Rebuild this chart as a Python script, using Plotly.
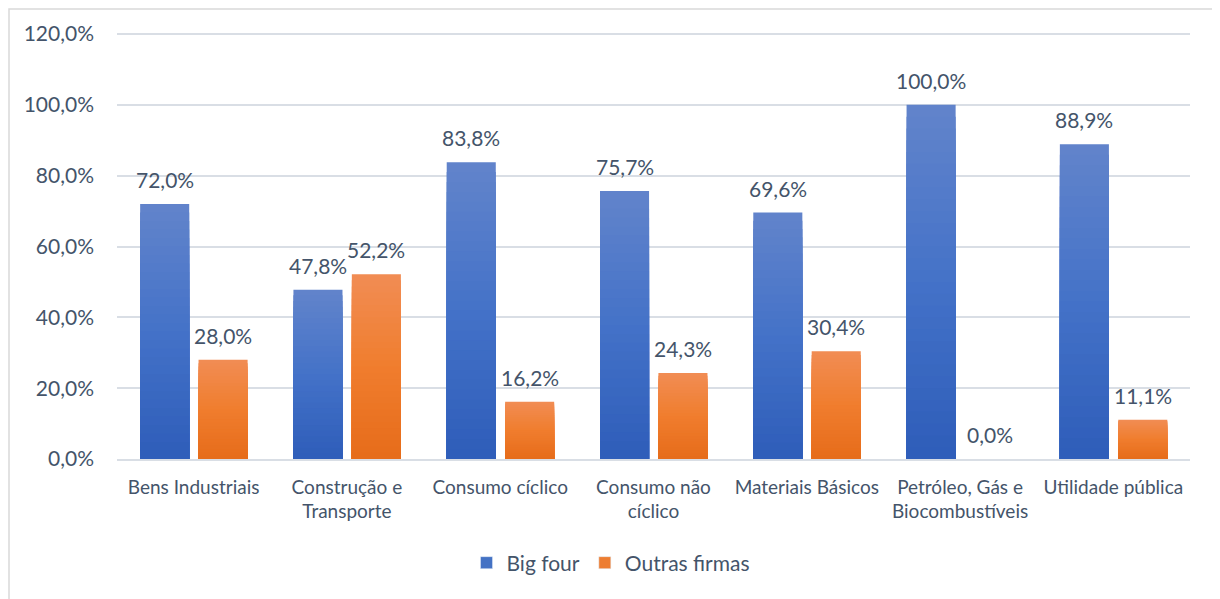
import plotly.graph_objects as go

categories = ["Bens Industriais", "Construção e<br>Transporte", "Consumo cíclico",
              "Consumo não<br>cíclico", "Materiais Básicos",
              "Petróleo, Gás e<br>Biocombustíveis", "Utilidade pública"]
big_four = [72.0, 47.8, 83.8, 75.7, 69.6, 100.0, 88.9]
outras = [28.0, 52.2, 16.2, 24.3, 30.4, 0.0, 11.1]
y_ticks = [0, 20, 40, 60, 80, 100, 120]
y_tick_text = [f"{v:.1f}%".replace(".", ",") for v in y_ticks]

TXT = "#44546A"
FONT = "Lato, Open Sans, sans-serif"

# page body has an 8px margin: figure is sized so it fills the 1220x599 window
W, H = 1212, 591
OFF = 8
Y_TOP = 121.13
BAR_W = 0.32
N_BANDS = 30

series = [
    dict(name="Big four", values=big_four, offset=-0.349, xshift=-29,
         stops=[(98, 132, 203), (68, 114, 200), (46, 93, 185)], legend_color="#4472C4"),
    dict(name="Outras firmas", values=outras, offset=0.032, xshift=29.5,
         stops=[(241, 141, 84), (240, 125, 46), (230, 108, 26)], legend_color="#ED7D31"),
]


def grad_color(stops, t):
    # t = 0 at top of bar, 1 at bottom
    if t <= 0.5:
        a, b, u = stops[0], stops[1], t / 0.5
    else:
        a, b, u = stops[1], stops[2], (t - 0.5) / 0.5
    c = [round(a[i] + (b[i] - a[i]) * u) for i in range(3)]
    return f"rgb({c[0]},{c[1]},{c[2]})"


fig = go.Figure()
for si, s in enumerate(series):
    # nested bars, tallest (lightest) first; each shorter bar overlays a darker band
    for k in range(N_BANDS):
        frac = (N_BANDS - k) / N_BANDS
        t = (k + 0.5) / N_BANDS
        fig.add_trace(go.Bar(
            x=categories, y=[v * frac for v in s["values"]],
            name=s["name"], legendgroup=s["name"], showlegend=False,
            marker=dict(color=grad_color(s["stops"], t), line=dict(width=0)),
            width=BAR_W, offset=s["offset"], hoverinfo="skip",
        ))
    # legend entry (no visible marks)
    fig.add_trace(go.Bar(
        x=categories, y=[None] * len(categories), name=s["name"],
        legendgroup=s["name"], showlegend=True, legendrank=si + 1,
        marker=dict(color=s["legend_color"]), width=BAR_W, offset=s["offset"],
    ))

annotations = []
for s in series:
    for cat, v in zip(categories, s["values"]):
        annotations.append(dict(
            x=cat, y=v, xref="x", yref="y", text=f"{v:.1f}%".replace(".", ","),
            showarrow=False, xanchor="center", yanchor="bottom",
            xshift=s["xshift"], yshift=10,
            font=dict(size=21, color=TXT, family=FONT),
        ))

pl, pr, pt, pb = 117 - OFF, 1220 - 1190, 22, 599 - 459
plot_h = H - pt - pb
fig.update_layout(
    width=W, height=H, autosize=False,
    margin=dict(l=pl, r=pr, t=pt, b=pb, autoexpand=False),
    paper_bgcolor="white", plot_bgcolor="white",
    separators=",.",
    barmode="overlay",
    font=dict(family=FONT, color=TXT, size=20),
    showlegend=True,
    legend=dict(orientation="h", xref="container", x=(611 - OFF) / W, xanchor="center",
                yref="container", y=1 - (563 - OFF) / H, yanchor="middle",
                font=dict(size=21, color=TXT, family=FONT),
                traceorder="normal"),
    annotations=annotations,
    shapes=[dict(type="rect", xref="paper", yref="paper",
                 x0=(9 - 117) / 1073, x1=(1216 - 117) / 1073,
                 y0=-0.5, y1=(459 - 9) / plot_h,
                 line=dict(color="#D9D9D9", width=1.5), fillcolor="rgba(0,0,0,0)", layer="below")],
)
fig.update_xaxes(showgrid=False, showline=True, linecolor="#D9DEE5", linewidth=1.5,
                 ticks="", tickangle=0, tickfont=dict(size=19, color=TXT, family=FONT),
                 ticklabelstandoff=10)
fig.update_yaxes(range=[0, Y_TOP], tickvals=y_ticks, ticktext=y_tick_text,
                 showgrid=True, gridcolor="#D9DEE5", gridwidth=1.5,
                 zeroline=False, showline=False, ticks="",
                 tickfont=dict(size=21, color=TXT, family=FONT), ticklabelstandoff=22)

fig.write_html("out.html")
